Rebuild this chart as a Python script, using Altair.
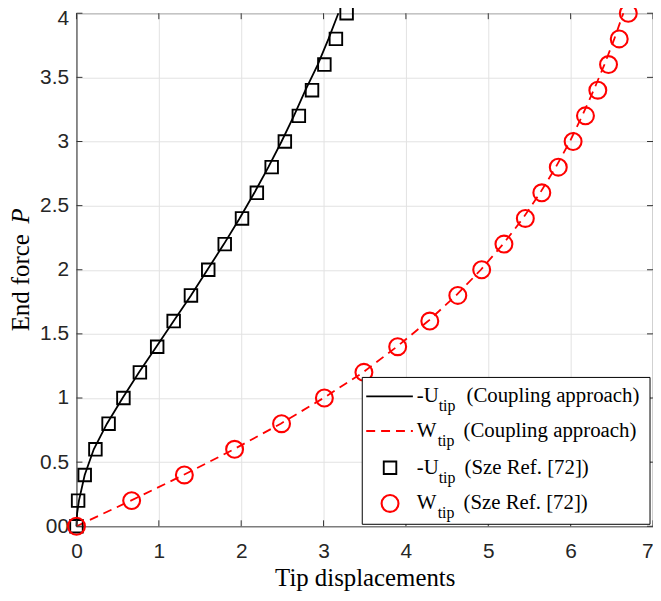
import altair as alt
import pandas as pd

# ---------------- data ----------------
P_levels = [0.0, 0.2, 0.4, 0.6, 0.8, 1.0, 1.2, 1.4, 1.6, 1.8, 2.0,
            2.2, 2.4, 2.6, 2.8, 3.0, 3.2, 3.4, 3.6, 3.8, 4.0]

# Sze Ref. [72] markers
u_ref = [0.0, 0.02, 0.10, 0.23, 0.39, 0.57, 0.77, 0.98, 1.18, 1.39, 1.60,
         1.80, 2.01, 2.19, 2.37, 2.53, 2.70, 2.86, 3.01, 3.15, 3.28]
w_ref = [0.0, 0.67, 1.31, 1.92, 2.49, 3.01, 3.49, 3.90, 4.29, 4.63, 4.92,
         5.19, 5.45, 5.65, 5.85, 6.03, 6.18, 6.33, 6.46, 6.59, 6.70]

# Coupling approach curves
P_u_line = [0.0, 0.05, 0.1, 0.2, 0.4, 0.6, 0.8, 1.0, 1.2, 1.4, 1.6, 1.8,
            2.0, 2.2, 2.4, 2.6, 2.8, 3.0, 3.2, 3.4, 3.6, 3.8, 4.0]
u_line = [0.0, 0.003, 0.008, 0.03, 0.10, 0.21, 0.37, 0.56, 0.76, 0.97, 1.18,
          1.39, 1.59, 1.79, 1.98, 2.16, 2.33, 2.49, 2.64, 2.78, 2.93, 3.06, 3.18]
P_w_line = P_levels
w_line = [0.0, 0.66, 1.30, 1.91, 2.48, 3.00, 3.48, 3.89, 4.27, 4.61, 4.91,
          5.18, 5.42, 5.63, 5.82, 5.99, 6.14, 6.28, 6.41, 6.53, 6.64]

x_ticks = [0, 1, 2, 3, 4, 5, 6, 7]
y_ticks = [0, 0.5, 1, 1.5, 2, 2.5, 3, 3.5, 4]

legend_main = ["-U", "W", "-U", "W"]
legend_sub = ["tip", "tip", "tip", "tip"]
legend_desc = ["(Coupling approach)", "(Coupling approach)",
               "(Sze Ref. [72])", "(Sze Ref. [72])"]

x_title = "Tip displacements"
y_title_main = "End force"
y_title_var = "P"

# ---------------- layout ----------------
W, H = 581, 517
SANS = "Liberation Sans"
SERIF = "Liberation Serif"
FRAME = "#666666"
TITLE_FS = 25
TICK_FS = 21

xs = alt.Scale(domain=[0, 7], nice=False, zero=False)
ys = alt.Scale(domain=[0, 4], nice=False, zero=False)

xaxis = alt.Axis(values=x_ticks, grid=True, gridColor="#e2e2e2", ticks=False,
                 labelFont=SANS, labelFontSize=TICK_FS, labelColor="#262626",
                 labelPadding=14, labelFlush=False, labelOverlap=False,
                 labelExpr="format(datum.value, '~g')",
                 labelAlign={"condition": {"test": "datum.value == 7", "value": "right"},
                             "value": "center"},
                 domainColor=FRAME, domainWidth=1.2,
                 title=x_title, titleFont=SERIF, titleFontSize=TITLE_FS,
                 titleFontWeight="normal", titleColor="black", titlePadding=5)
yaxis = alt.Axis(values=y_ticks, grid=True, gridColor="#e2e2e2", ticks=False,
                 labelFont=SANS, labelFontSize=TICK_FS, labelColor="#262626",
                 labelPadding=8, labelFlush=False, labelOverlap=False,
                 labelExpr="datum.value == 0 ? '00' : format(datum.value, '~g')",
                 labelOffset={"condition": {"test": "datum.value == 4", "value": 5},
                              "value": 0},
                 domainColor=FRAME, domainWidth=1.2, title=None)

df_u_line = pd.DataFrame({"x": u_line, "P": P_u_line, "i": range(len(u_line))})
df_w_line = pd.DataFrame({"x": w_line, "P": P_w_line, "i": range(len(w_line))})
df_u_ref = pd.DataFrame({"x": u_ref, "P": P_levels})
df_w_ref = pd.DataFrame({"x": w_ref, "P": P_levels})


def X(field):
    return alt.X(field, scale=xs, axis=xaxis)


def Y(field):
    return alt.Y(field, scale=ys, axis=yaxis)


line_u = alt.Chart(df_u_line).mark_line(color="black", strokeWidth=1.8).encode(
    x=X("x:Q"), y=Y("P:Q"), order="i:Q")
line_w = alt.Chart(df_w_line).mark_line(color="#ff0000", strokeWidth=1.8,
                                        strokeDash=[9, 6]).encode(
    x=X("x:Q"), y=Y("P:Q"), order="i:Q")
pts_u = alt.Chart(df_u_ref).mark_point(shape="square", filled=False, size=160,
                                       color="black", strokeWidth=1.9,
                                       opacity=1).encode(x=X("x:Q"), y=Y("P:Q"))
pts_w = alt.Chart(df_w_ref).mark_point(shape="circle", filled=False, size=290,
                                       color="#ff0000", strokeWidth=2.1,
                                       opacity=1).encode(x=X("x:Q"), y=Y("P:Q"))

# inward ticks (MATLAB style) on all four sides
df_xt = pd.DataFrame({"t": x_ticks})
df_yt = pd.DataFrame({"t": y_ticks})
tick_style = dict(color="#333333", strokeWidth=1)
xt_bot = alt.Chart(df_xt).mark_rule(**tick_style).encode(
    x=X("t:Q"), y=alt.value(H), y2=alt.value(H - 6))
xt_top = alt.Chart(df_xt).mark_rule(**tick_style).encode(
    x=X("t:Q"), y=alt.value(0), y2=alt.value(6))
yt_left = alt.Chart(df_yt).mark_rule(**tick_style).encode(
    y=Y("t:Q"), x=alt.value(0), x2=alt.value(6))
yt_right = alt.Chart(df_yt).mark_rule(**tick_style).encode(
    y=Y("t:Q"), x=alt.value(W), x2=alt.value(W - 6))

one = pd.DataFrame({"a": [0]})

# y-axis title (centered on the axis, italic P)
yc = H / 2
half = 62
ytitle1 = alt.Chart(one).mark_text(
    text=y_title_main, angle=270, align="left", baseline="middle",
    font=SERIF, fontSize=TITLE_FS, color="black").encode(
    x=alt.value(-56), y=alt.value(yc + half))
ytitle2 = alt.Chart(one).mark_text(
    text=y_title_var, angle=270, align="right", baseline="middle",
    font=SERIF, fontSize=TITLE_FS, fontStyle="italic", color="black").encode(
    x=alt.value(-56), y=alt.value(yc - half))

# ---------------- legend ----------------
LX0, LX1, LY0, LY1 = 288, 578, 367, 515
row_y = [386, 421, 458, 494]
box = alt.Chart(one).mark_rect(fill="white", stroke="black", strokeWidth=1).encode(
    x=alt.value(LX0), x2=alt.value(LX1), y=alt.value(LY0), y2=alt.value(LY1))
leg_l1 = alt.Chart(one).mark_rule(color="black", strokeWidth=1.8).encode(
    x=alt.value(292), x2=alt.value(339), y=alt.value(row_y[0]))
leg_l2 = alt.Chart(one).mark_rule(color="#ff0000", strokeWidth=1.8,
                                  strokeDash=[9, 6]).encode(
    x=alt.value(292), x2=alt.value(339), y=alt.value(row_y[1]))
leg_p1 = alt.Chart(one).mark_point(shape="square", filled=False, size=160,
                                   color="black", strokeWidth=1.9, opacity=1).encode(
    x=alt.value(316), y=alt.value(row_y[2]))
leg_p2 = alt.Chart(one).mark_point(shape="circle", filled=False, size=290,
                                   color="#ff0000", strokeWidth=2.1, opacity=1).encode(
    x=alt.value(316), y=alt.value(row_y[3]))

main_x = 343
sub_x = [365, 364, 365, 364]
desc_x = [393, 390, 391, 390]
leg_texts = []
for k in range(4):
    leg_texts.append(alt.Chart(one).mark_text(
        text=legend_main[k], align="left", baseline="middle", font=SERIF,
        fontSize=21, color="black").encode(x=alt.value(main_x), y=alt.value(row_y[k])))
    leg_texts.append(alt.Chart(one).mark_text(
        text=legend_sub[k], align="left", baseline="middle", font=SERIF,
        fontSize=16, color="black").encode(x=alt.value(sub_x[k]), y=alt.value(row_y[k] + 10)))
    leg_texts.append(alt.Chart(one).mark_text(
        text=legend_desc[k], align="left", baseline="middle", font=SERIF,
        fontSize=21, color="black").encode(x=alt.value(desc_x[k]), y=alt.value(row_y[k])))

chart = alt.layer(
    line_u, line_w, pts_u, pts_w,
    xt_bot, xt_top, yt_left, yt_right,
    ytitle1, ytitle2,
    box, leg_l1, leg_l2, leg_p1, leg_p2, *leg_texts
).properties(
    width=W, height=H,
    autosize=alt.AutoSizeParams(type="none"),
    padding={"left": 69, "top": 3, "right": 0, "bottom": 70},
    background="white",
).configure_view(stroke=FRAME, strokeWidth=1.2)

chart.save("out.html", embed_options={"renderer": "svg", "actions": False})
